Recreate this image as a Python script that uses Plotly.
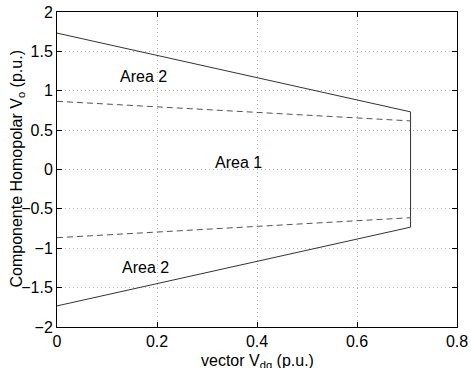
import plotly.graph_objects as go

# Data
solid_upper_x = [0, 0.7071]
solid_upper_y = [1.732, 0.732]
solid_lower_x = [0, 0.7071]
solid_lower_y = [-1.732, -0.732]
vertical_x = [0.7071, 0.7071]
vertical_y = [0.732, -0.732]
dash_upper_x = [0, 0.7071]
dash_upper_y = [0.866, 0.617]
dash_lower_x = [0, 0.7071]
dash_lower_y = [-0.866, -0.612]

label_text = ["Area 2", "Area 1", "Area 2"]
label_x = [0.172, 0.362, 0.176]
label_y = [1.187, 0.095, -1.242]

x_ticks = [0, 0.2, 0.4, 0.6, 0.8]
y_ticks = [-2, -1.5, -1, -0.5, 0, 0.5, 1, 1.5, 2]

FONT = "Liberation Sans, Arial, Helvetica, sans-serif"
FS = 16
line_col = "#333333"

fig = go.Figure()
for xs, ys, dash in [(solid_upper_x, solid_upper_y, "solid"),
                     (solid_lower_x, solid_lower_y, "solid"),
                     (vertical_x, vertical_y, "solid"),
                     (dash_upper_x, dash_upper_y, "dash"),
                     (dash_lower_x, dash_lower_y, "dash")]:
    fig.add_trace(go.Scatter(x=xs, y=ys, mode="lines",
                             line=dict(color=line_col if dash == "solid" else "#555555",
                                       width=1, dash="solid" if dash == "solid" else "6px,4px"),
                             showlegend=False, hoverinfo="skip"))

for t, x, y in zip(label_text, label_x, label_y):
    fig.add_annotation(x=x, y=y, text=t, showarrow=False, xref="x", yref="y",
                       font=dict(family=FONT, size=FS, color="black"))

fig.add_annotation(x=0.5, y=-0.108, xref="paper", yref="paper", text="vector V<sub>dq</sub> (p.u.)",
                   showarrow=False, font=dict(family=FONT, size=FS, color="black"), yanchor="middle")
fig.add_annotation(x=-0.1, y=0.5, xref="paper", yref="paper",
                   text="Componente Homopolar V<sub>o</sub> (p.u.)",
                   showarrow=False, textangle=-90,
                   font=dict(family=FONT, size=FS, color="black"), xanchor="center")

axis_common = dict(showgrid=True, gridcolor="#b4b4b4", griddash="1px,3px", gridwidth=1,
                   zeroline=False, showline=True, linecolor="black", linewidth=1,
                   mirror="ticks", ticks="inside", ticklen=5, tickcolor="black",
                   automargin=False,
                   tickfont=dict(family=FONT, size=FS, color="black"))

fig.update_xaxes(range=[0, 0.8], tickvals=x_ticks, ticktext=[str(v) for v in x_ticks], **axis_common)
fig.update_yaxes(range=[-2, 2], tickvals=y_ticks,
                 ticktext=[("\u2212" + str(abs(v)).rstrip("0").rstrip(".") if v < 0 else (str(v).rstrip("0").rstrip(".") if v != 0 else "0")) for v in y_ticks],
                 **axis_common)

fig.update_layout(width=471, height=368, margin=dict(l=57, r=14, t=12, b=41),
                  plot_bgcolor="white", paper_bgcolor="white",
                  font=dict(family=FONT, size=FS, color="black"))

fig.write_html("out.html", config={"displayModeBar": False},
               post_script="document.body.style.margin='0';document.body.style.overflow='hidden';")
